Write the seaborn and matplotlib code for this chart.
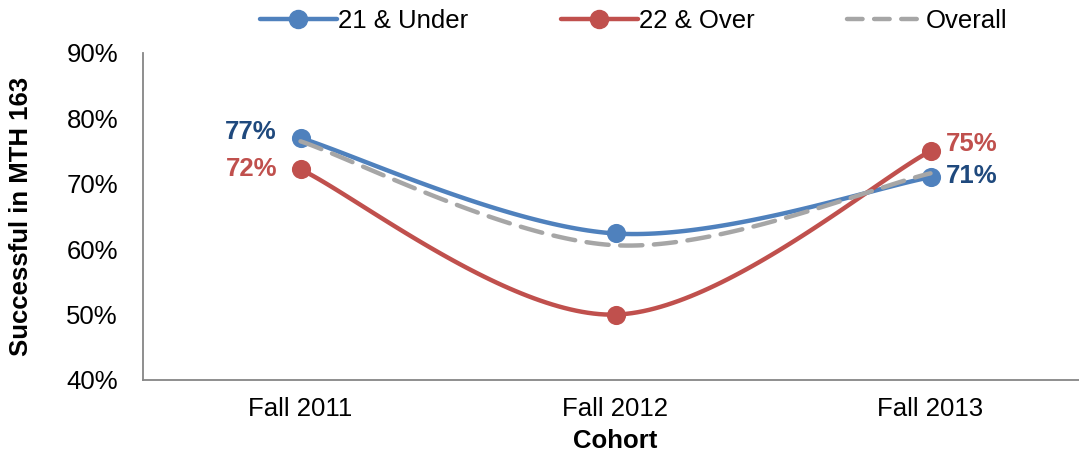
import numpy as np
import pandas as pd
import seaborn as sns
import matplotlib
matplotlib.use("Agg")
import matplotlib.pyplot as plt
from matplotlib.lines import Line2D

cohorts = ["Fall 2011", "Fall 2012", "Fall 2013"]
under21 = [77.0, 62.4, 71.0]
over22 = [72.2, 50.0, 75.0]
overall = [76.5, 60.6, 71.6]
under21_labels = ["77%", None, "71%"]
over22_labels = ["72%", None, "75%"]

BLUE = "#4F81BD"
RED = "#C0504D"
GRAY = "#A6A6A6"
BLUE_TXT = "#1F497D"
RED_TXT = "#C0504D"

sns.set_theme(style="white")
plt.rcParams["font.family"] = ["Liberation Sans", "DejaVu Sans"]
plt.rcParams["text.color"] = "black"
plt.rcParams["axes.labelcolor"] = "black"
FS = 18.5


def smooth(xs, ys, n=60):
    """Catmull-Rom style Bezier smoothing through every data point."""
    xs = np.asarray(xs, float)
    ys = np.asarray(ys, float)
    px = np.concatenate([[xs[0]], xs, [xs[-1]]])
    py = np.concatenate([[ys[0]], ys, [ys[-1]]])
    out_x, out_y = [], []
    t = np.linspace(0, 1, n)
    for i in range(1, len(xs)):
        p0 = np.array([px[i], py[i]])
        p3 = np.array([px[i + 1], py[i + 1]])
        c1 = p0 + (np.array([px[i + 1], py[i + 1]]) - np.array([px[i - 1], py[i - 1]])) / 6
        c2 = p3 - (np.array([px[i + 2], py[i + 2]]) - np.array([px[i], py[i]])) / 6
        b = ((1 - t) ** 3)[:, None] * p0 + (3 * (1 - t) ** 2 * t)[:, None] * c1 \
            + (3 * (1 - t) * t ** 2)[:, None] * c2 + (t ** 3)[:, None] * p3
        out_x.extend(b[:, 0])
        out_y.extend(b[:, 1])
    return np.array(out_x), np.array(out_y)


fig = plt.figure(figsize=(10.79, 4.62), dpi=100)
ax = fig.add_axes([143 / 1079, 0.1775, 945 / 1079, 0.7078])

xpos = np.arange(len(cohorts))

for vals, color in [(under21, BLUE), (over22, RED)]:
    cx, cy = smooth(xpos, vals)
    curve = pd.DataFrame({"x": cx, "y": cy})
    sns.lineplot(data=curve, x="x", y="y", sort=False, color=color, lw=3.2,
                 ax=ax, solid_capstyle="round", zorder=3)
    pts = pd.DataFrame({"x": xpos, "y": vals})
    sns.scatterplot(data=pts, x="x", y="y", color=color, s=190, edgecolor=color,
                    linewidth=0, ax=ax, zorder=4)

cx, cy = smooth(xpos, overall)
curve = pd.DataFrame({"x": cx, "y": cy})
sns.lineplot(data=curve, x="x", y="y", sort=False, color=GRAY, lw=3.2, ax=ax,
             zorder=5, dashes=False)
ax.lines[-1].set_dashes((5, 2.6))
ax.lines[-1].set_dash_capstyle("round")

# value labels at the end points
for i, lab in enumerate(under21_labels):
    if lab is None:
        continue
    if i == 0:
        ax.annotate(lab, (xpos[i], under21[i]), xytext=(-17, 4), textcoords="offset points",
                    ha="right", va="center", fontsize=FS, fontweight="bold", color=BLUE_TXT)
    else:
        ax.annotate(lab, (xpos[i], under21[i]), xytext=(11, 1), textcoords="offset points",
                    ha="left", va="center", fontsize=FS, fontweight="bold", color=BLUE_TXT)
for i, lab in enumerate(over22_labels):
    if lab is None:
        continue
    if i == 0:
        ax.annotate(lab, (xpos[i], over22[i]), xytext=(-17, 0), textcoords="offset points",
                    ha="right", va="center", fontsize=FS, fontweight="bold", color=RED_TXT)
    else:
        ax.annotate(lab, (xpos[i], over22[i]), xytext=(11, 5), textcoords="offset points",
                    ha="left", va="center", fontsize=FS, fontweight="bold", color=RED_TXT)

ax.set_xlim(-0.5, len(cohorts) - 0.5)
ax.set_ylim(40, 90)
ax.set_yticks(np.arange(40, 91, 10))
ax.set_yticklabels([f"{v}%" for v in range(40, 91, 10)])
ax.set_xticks(xpos)
ax.set_xticklabels(cohorts)
ax.set_xticks(np.arange(-0.5, len(cohorts), 1.0), minor=True)
ax.tick_params(axis="x", which="major", length=0, pad=12, labelsize=FS, labelcolor="black")
ax.tick_params(axis="x", which="minor", length=7, width=1.3, color="#868686", direction="out")
ax.tick_params(axis="y", which="major", length=6, width=1.3, color="#868686",
               direction="out", labelsize=FS, pad=12, labelcolor="black")

for side in ["top", "right"]:
    ax.spines[side].set_visible(False)
for side in ["left", "bottom"]:
    ax.spines[side].set_color("#868686")
    ax.spines[side].set_linewidth(1.3)

ax.set_xlabel("Cohort", fontsize=FS, fontweight="bold", labelpad=6, color="black")
ax.set_ylabel("Successful in MTH 163", fontsize=FS, fontweight="bold", labelpad=24,
              color="black")
ax.grid(False)

handles = [
    Line2D([], [], color=BLUE, lw=3.2, marker="o", markersize=13),
    Line2D([], [], color=RED, lw=3.2, marker="o", markersize=13),
    Line2D([], [], color=GRAY, lw=3.2, dashes=(3.5, 2.6), dash_capstyle="round"),
]
fig.legend(handles, ["21 & Under", "22 & Over", "Overall"], loc="center",
           bbox_to_anchor=(0.587, 0.955), ncol=3, frameon=False, fontsize=FS,
           handlelength=3.0, handletextpad=0.05, columnspacing=3.6, borderpad=0,
           labelcolor="black")

fig.savefig("out.png", dpi=100)
